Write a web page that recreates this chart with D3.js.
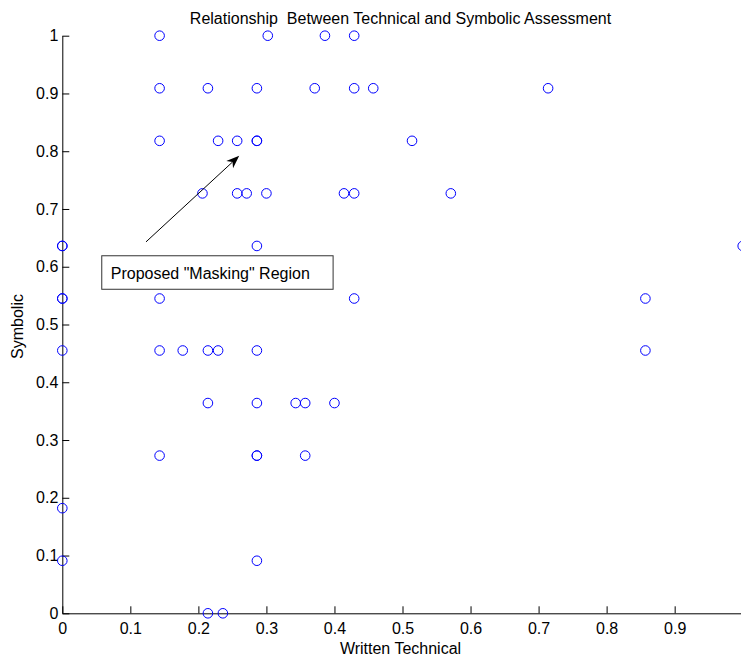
<!DOCTYPE html>
<html>
<head>
<meta charset="utf-8">
<script src="https://cdn.jsdelivr.net/npm/d3@7"></script>
<style>
  body { margin: 0; background: #ffffff; }
  svg { display: block; font-family: "Liberation Sans", Arial, sans-serif; }
</style>
</head>
<body>
<div id="chart"></div>
<script>
// Constants for the chart
const CHART_WIDTH = 741;
const CHART_HEIGHT = 656;
const MARGIN = { left: 62.3, top: 35.7, right: -1.7, bottom: 42.7 };
const FONT_SIZE = 16;

// Scores, one entry per student (x = written technical, y = symbolic)
const writtenTechnical = [
  0.143, 0.302, 0.386, 0.429,
  0.143, 0.214, 0.286, 0.371, 0.429, 0.457, 0.714,
  0.143, 0.229, 0.257, 0.286, 0.286, 0.514,
  0.206, 0.257, 0.271, 0.300, 0.414, 0.429, 0.571,
  0, 0, 0.286, 1.0,
  0, 0, 0.143, 0.429, 0.857,
  0, 0.143, 0.177, 0.214, 0.229, 0.286, 0.857,
  0.214, 0.286, 0.343, 0.357, 0.400,
  0.143, 0.286, 0.286, 0.357,
  0,
  0, 0.286,
  0.214, 0.236
];
const symbolic = [
  1, 1, 1, 1,
  0.909, 0.909, 0.909, 0.909, 0.909, 0.909, 0.909,
  0.818, 0.818, 0.818, 0.818, 0.818, 0.818,
  0.727, 0.727, 0.727, 0.727, 0.727, 0.727, 0.727,
  0.636, 0.636, 0.636, 0.636,
  0.545, 0.545, 0.545, 0.545, 0.545,
  0.455, 0.455, 0.455, 0.455, 0.455, 0.455, 0.455,
  0.364, 0.364, 0.364, 0.364, 0.364,
  0.273, 0.273, 0.273, 0.273,
  0.182,
  0.091, 0.091,
  0, 0
];

// the 1 tick of the x axis falls just past the right edge of the figure
const xTickValues = [0, 0.1, 0.2, 0.3, 0.4, 0.5, 0.6, 0.7, 0.8, 0.9];
const yTickValues = [0, 0.1, 0.2, 0.3, 0.4, 0.5, 0.6, 0.7, 0.8, 0.9, 1];

const TITLE = "Relationship  Between Technical and Symbolic Assessment";
const X_LABEL = "Written Technical";
const Y_LABEL = "Symbolic";
const NOTE_TEXT = "Proposed \"Masking\" Region";

// annotation placement, in data units
const noteBox = { x0: 0.058, x1: 0.398, y0: 0.619, y1: 0.561 };
const noteArrow = { x0: 0.123, y0: 0.643, x1: 0.260, y1: 0.792 };

var svg, xScale, yScale;

setup();

function setup() {
  svg = d3.select("#chart")
    .append("svg")
    .attr("width", CHART_WIDTH)
    .attr("height", CHART_HEIGHT);

  xScale = d3.scaleLinear()
    .domain([0, 1])
    .range([MARGIN.left, CHART_WIDTH - MARGIN.right]);

  yScale = d3.scaleLinear()
    .domain([0, 1])
    .range([CHART_HEIGHT - MARGIN.bottom, MARGIN.top]);

  drawAxes();
  drawPoints();
  drawNote();
  drawLabels();
}

function drawAxes() {
  let gx = svg.append("g")
    .attr("transform", "translate(0," + yScale(0) + ")")
    .call(d3.axisBottom(xScale)
      .tickValues(xTickValues)
      .tickFormat(d3.format("~g"))
      .tickSizeInner(-7)
      .tickSizeOuter(0)
      .tickPadding(9));

  let gy = svg.append("g")
    .attr("transform", "translate(" + xScale(0) + ",0)")
    .call(d3.axisLeft(yScale)
      .tickValues(yTickValues)
      .tickFormat(d3.format("~g"))
      .tickSizeInner(-7)
      .tickSizeOuter(0)
      .tickPadding(4));

  [gx, gy].forEach(function (g) {
    g.attr("font-size", FONT_SIZE)
      .attr("font-family", null);
    g.selectAll("text").attr("fill", "#000");
    g.selectAll("line").attr("stroke", "#000");
    g.select(".domain").attr("stroke", "#000");
  });
}

function drawPoints() {
  svg.append("g")
    .selectAll("circle")
    .data(writtenTechnical)
    .enter()
    .append("circle")
      .attr("cx", function (d) { return xScale(d); })
      .attr("cy", function (d, i) { return yScale(symbolic[i]); })
      .attr("r", 4.8)
      .attr("fill", "none")
      .attr("stroke", "#0000ff")
      .attr("stroke-width", 1);
}

function drawNote() {
  // text box
  svg.append("rect")
    .attr("x", xScale(noteBox.x0))
    .attr("y", yScale(noteBox.y0))
    .attr("width", xScale(noteBox.x1) - xScale(noteBox.x0))
    .attr("height", yScale(noteBox.y1) - yScale(noteBox.y0))
    .attr("fill", "#fff")
    .attr("stroke", "#333")
    .attr("stroke-width", 1);

  svg.append("text")
    .attr("x", xScale(noteBox.x0) + 9)
    .attr("y", yScale(noteBox.y1) - 10)
    .attr("font-size", FONT_SIZE)
    .attr("fill", "#000")
    .text(NOTE_TEXT);

  // arrow
  let sx = xScale(noteArrow.x0), sy = yScale(noteArrow.y0);
  let tx = xScale(noteArrow.x1), ty = yScale(noteArrow.y1);
  let len = Math.hypot(tx - sx, ty - sy);
  let ux = (tx - sx) / len, uy = (ty - sy) / len;
  let nx = -uy, ny = ux;
  let headLen = 13, headW = 5;

  svg.append("line")
    .attr("x1", sx).attr("y1", sy)
    .attr("x2", tx - ux * headLen * 0.7).attr("y2", ty - uy * headLen * 0.7)
    .attr("stroke", "#000")
    .attr("stroke-width", 1);

  let head = [
    [tx, ty],
    [tx - ux * headLen + nx * headW, ty - uy * headLen + ny * headW],
    [tx - ux * headLen * 0.7, ty - uy * headLen * 0.7],
    [tx - ux * headLen - nx * headW, ty - uy * headLen - ny * headW]
  ];
  svg.append("path")
    .attr("d", "M" + head.map(function (p) { return p.join(","); }).join("L") + "Z")
    .attr("fill", "#000");
}

function drawLabels() {
  let midX = (xScale.range()[0] + xScale.range()[1]) / 2;
  let midY = (yScale.range()[0] + yScale.range()[1]) / 2;

  svg.append("text")
    .attr("x", midX - 2)
    .attr("y", 24)
    .attr("text-anchor", "middle")
    .attr("font-size", FONT_SIZE)
    .style("white-space", "pre")
    .attr("fill", "#000")
    .text(TITLE);

  svg.append("text")
    .attr("x", midX - 2)
    .attr("y", 654)
    .attr("text-anchor", "middle")
    .attr("font-size", FONT_SIZE)
    .attr("fill", "#000")
    .text(X_LABEL);

  svg.append("text")
    .attr("transform", "translate(23," + (midY + 2) + ") rotate(-90)")
    .attr("text-anchor", "middle")
    .attr("font-size", FONT_SIZE)
    .attr("fill", "#000")
    .text(Y_LABEL);
}
</script>
</body>
</html>
